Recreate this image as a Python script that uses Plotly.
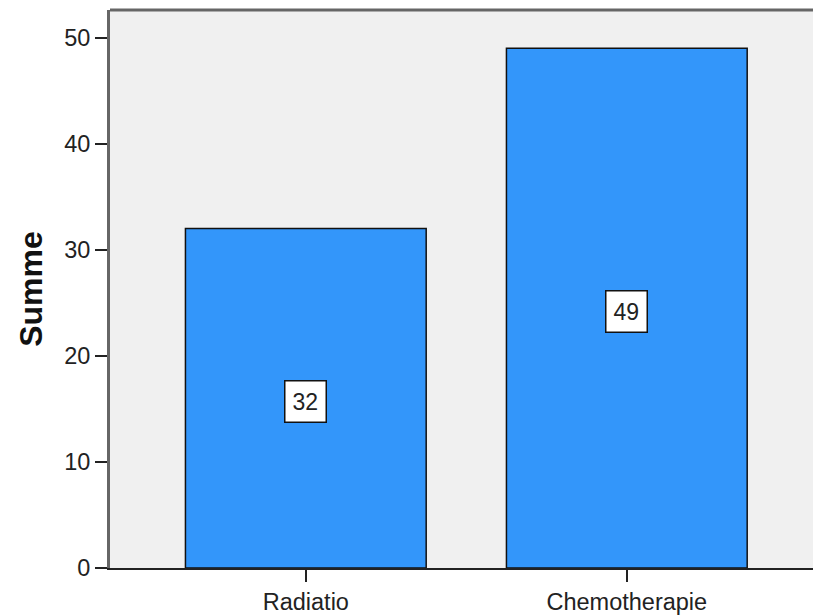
import plotly.graph_objects as go

# Summen je Behandlungsart
categories = ["Radiatio", "Chemotherapie"]
values = [32, 49]
y_ticks = [0, 10, 20, 30, 40, 50]

bar_color = "rgb(51,150,250)"
plot_bg = "#F0F0F0"
frame_color = "#666666"
text_color = "#222222"
font_family = "Liberation Sans, Arial, sans-serif"

fig = go.Figure()
fig.add_trace(go.Bar(
    x=categories,
    y=values,
    width=0.75,
    marker=dict(color=bar_color, line=dict(color="#111111", width=1.5)),
    hoverinfo="skip",
))

# value labels in white boxes at mid-height of each bar
for cat, val in zip(categories, values):
    fig.add_annotation(
        x=cat, y=val / 2, xref="x", yref="y", yshift=-3,
        text=str(val), showarrow=False,
        font=dict(family=font_family, size=23, color=text_color),
        bgcolor="white", bordercolor="#111111", borderwidth=1.5, borderpad=7,
    )

# top frame line of the plot area
fig.add_shape(type="line", xref="paper", yref="paper", x0=0, x1=1, y0=1, y1=1,
              line=dict(color=frame_color, width=3))

fig.update_layout(
    width=813, height=615,
    margin=dict(l=110, r=0, t=10, b=47),
    paper_bgcolor="white",
    plot_bgcolor=plot_bg,
    showlegend=False,
    font=dict(family=font_family, color=text_color),
    xaxis=dict(
        range=[-0.61, 1.58],
        showgrid=False, zeroline=False,
        showline=True, linecolor="#222222", linewidth=2,
        ticks="outside", ticklen=12, tickwidth=2, tickcolor="#222222",
        tickfont=dict(size=23.5, color=text_color),
    ),
    yaxis=dict(
        range=[0, 52.6],
        tickvals=y_ticks,
        showgrid=False, zeroline=False,
        showline=True, linecolor=frame_color, linewidth=3,
        ticks="outside", ticklen=12, tickwidth=2, tickcolor="#222222",
        tickfont=dict(size=23.5, color=text_color),
        title=dict(text="<b>Summe</b>", font=dict(size=32, color="#111111"), standoff=12),
    ),
)

fig.write_html("out.html")
